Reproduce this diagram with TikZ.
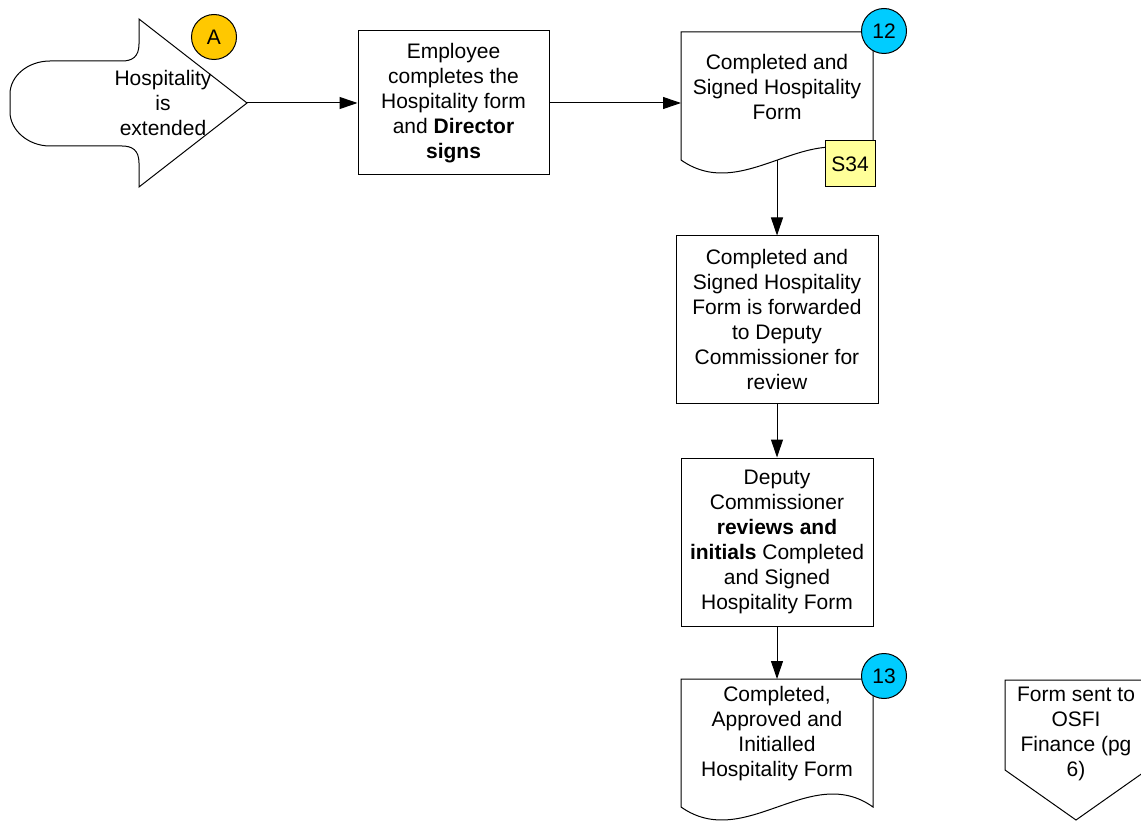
\documentclass[tikz,border=0pt]{standalone}
\usepackage{fontspec}
\setmainfont{Liberation Sans}
\usetikzlibrary{arrows.meta}
\definecolor{markergold}{RGB}{255,200,0}
\definecolor{markercyan}{RGB}{0,204,255}
\definecolor{refyellow}{RGB}{255,255,153}
\tikzset{
  outline/.style={draw=black, line width=1pt, line join=miter},
  procbox/.style={outline, fill=white, rectangle, inner sep=0pt, align=center,
    font=\fontsize{21}{25}\selectfont},
  label/.style={inner sep=0pt, align=center, font=\fontsize{21}{25}\selectfont},
  marker/.style={outline, circle, minimum size=45pt, inner sep=0pt,
    font=\fontsize{21}{25}\selectfont},
  flow/.style={line width=1pt, -{Triangle[length=18pt,width=12pt]}},
}
\begin{document}
\begin{tikzpicture}[x=1pt,y=-1pt]
\useasboundingbox (0,0) rectangle (1141,821);
\clip (0,0) rectangle (1141,821);

% start: hospitality extended (arrow-shaped terminator)
\draw[outline] (139,19) -- (247,103) -- (139,187) -- (139,163)
  .. controls (139,150) and (132,146) .. (122,146) -- (50,146)
  .. controls (28,146) and (10,130) .. (10,112) -- (10,94)
  .. controls (10,76) and (28,61) .. (50,61) -- (122,61)
  .. controls (132,61) and (139,57) .. (139,44) -- cycle;
\coordinate (start) at (247,103);
\node[label] (startlbl) at (163,103) {Hospitality\\is\\extended};
\node[marker, fill=markergold] (ma) at (214,37) {A};

% employee completes the form
\node[procbox, minimum width=191pt, minimum height=144pt] (fill) at (453.5,103)
  {Employee\\completes the\\Hospitality form\\and \textbf{Director}\\\textbf{signs}};

% completed and signed form (document)
\draw[outline, fill=white] (681,32) -- (873,32) -- (873,160)
  .. controls (810,115) and (745,205) .. (681,160) -- cycle;
\coordinate (doc12in) at (681,103);
\coordinate (doc12out) at (777,160);
\node[label] (doc12) at (777,87) {Completed and\\Signed Hospitality\\Form};
\node[marker, fill=markercyan] (m12) at (884,31) {12};
\node[outline, fill=refyellow, minimum width=50pt, minimum height=46pt,
  inner sep=0pt, font=\fontsize{21}{25}\selectfont] (s34) at (850,164) {S34};

% forwarded to deputy commissioner
\node[procbox, minimum width=202pt, minimum height=167pt] (fwd) at (777,319.5)
  {Completed and\\Signed Hospitality\\Form is forwarded\\to Deputy\\Commissioner for\\review};

% deputy commissioner reviews
\node[procbox, minimum width=192pt, minimum height=168pt] (rev) at (777,542)
  {Deputy\\Commissioner\\\textbf{reviews and}\\\textbf{initials} Completed\\and Signed\\Hospitality Form};

% completed, approved and initialled form (document)
\draw[outline, fill=white] (681,679) -- (873,679) -- (873,807)
  .. controls (810,762) and (745,852) .. (681,807) -- cycle;
\coordinate (doc13in) at (777,679);
\node[label] (doc13) at (777,734) {Completed,\\Approved and\\Initialled\\Hospitality Form};
\node[marker, fill=markercyan] (m13) at (884,676) {13};

% off-page reference
\draw[outline] (1005,680) -- (1147,680) -- (1147,770) -- (1076,820) -- (1005,770) -- cycle;
\node[label] (offpage) at (1076,734) {Form sent to\\OSFI\\Finance (pg\\6)};

% connectors
\draw[flow] (start) -- (fill.west);
\draw[flow] (fill.east) -- (doc12in);
\draw[flow] (doc12out) -- (fwd.north);
\draw[flow] (fwd.south) -- (rev.north);
\draw[flow] (rev.south) -- (doc13in);
\end{tikzpicture}
\end{document}
